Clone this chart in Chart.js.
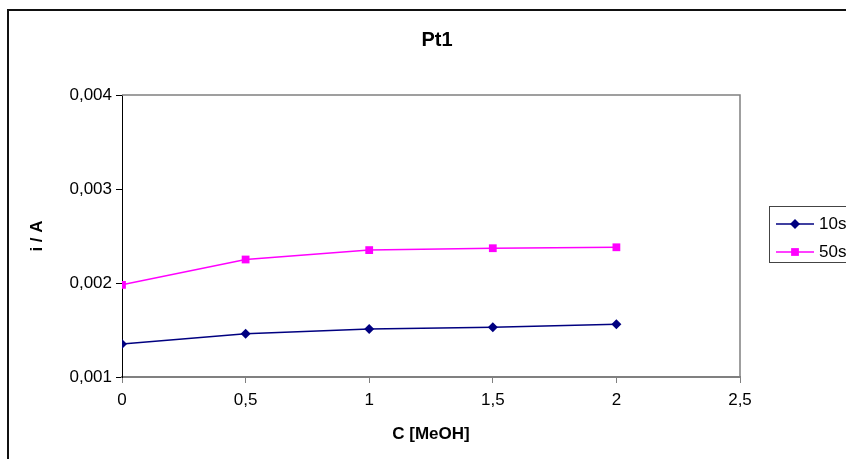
<!DOCTYPE html>
<html>
<head>
<meta charset="utf-8">
<script src="https://cdn.jsdelivr.net/npm/chart.js@4.4.1/dist/chart.umd.min.js"></script>
<style>
  html, body { margin: 0; padding: 0; background: #fff; }
  canvas { display: block; }
</style>
</head>
<body>
<canvas id="chartPt1" width="846" height="459"></canvas>
<script>
// Pt1: Strom gegen Methanolkonzentration
const konzentration = [0, 0.5, 1, 1.5, 2];
const strom10s = [0.00135, 0.00146, 0.00151, 0.00153, 0.00156];
const strom50s = [0.00198, 0.00225, 0.00235, 0.00237, 0.00238];
const xTicks = [0, 0.5, 1, 1.5, 2, 2.5];
const yTicks = [0.001, 0.002, 0.003, 0.004];

const FONT = "'Liberation Sans', Arial, sans-serif";
Chart.defaults.font.family = FONT;
Chart.defaults.color = '#000';

const komma = v => String(v).replace('.', ',');

// Rahmen, Titel und Legende im Excel-Stil
const excelFrame = {
    id: 'excelFrame',
    beforeDraw(chart) {
        const ctx = chart.ctx;
        ctx.save();
        ctx.fillStyle = '#fff';
        ctx.fillRect(0, 0, chart.width, chart.height);
        ctx.strokeStyle = '#111';
        ctx.lineWidth = 2;
        ctx.strokeRect(8, 10, chart.width + 20, chart.height + 20);
        ctx.restore();
    },
    afterDatasetsDraw(chart) {
        const ctx = chart.ctx;
        const a = chart.chartArea;
        ctx.save();
        ctx.strokeStyle = '#808080';
        ctx.lineWidth = 1.5;
        ctx.beginPath();
        ctx.moveTo(a.left, a.top);
        ctx.lineTo(a.right, a.top);
        ctx.lineTo(a.right, a.bottom);
        ctx.stroke();

        ctx.fillStyle = '#000';
        ctx.font = 'bold 20px ' + FONT;
        ctx.textAlign = 'center';
        ctx.textBaseline = 'middle';
        ctx.fillText('Pt1', 437, 40);

        // Legende
        ctx.fillStyle = '#fff';
        ctx.fillRect(769.5, 206.5, 120, 56);
        ctx.strokeStyle = '#444';
        ctx.lineWidth = 1;
        ctx.strokeRect(769.5, 206.5, 120, 56);
        chart.data.datasets.forEach((ds, i) => {
            const y = 224 + i * 28;
            ctx.strokeStyle = ds.borderColor;
            ctx.lineWidth = ds.borderWidth;
            ctx.beginPath();
            ctx.moveTo(776, y);
            ctx.lineTo(814, y);
            ctx.stroke();
            ctx.fillStyle = ds.backgroundColor;
            Chart.helpers.drawPoint(ctx, {
                pointStyle: ds.pointStyle, radius: ds.pointRadius, borderWidth: 0
            }, 795, y);
            ctx.fillStyle = '#000';
            ctx.font = '17px ' + FONT;
            ctx.textAlign = 'left';
            ctx.fillText(ds.label, 819, y);
        });
        ctx.restore();
    }
};

new Chart(document.getElementById('chartPt1'), {
    type: 'line',
    data: {
        datasets: [{
            label: '10s',
            data: konzentration.map((c, i) => ({ x: c, y: strom10s[i] })),
            borderColor: '#000080',
            backgroundColor: '#000080',
            borderWidth: 1.5,
            pointStyle: 'rectRot',
            pointRadius: 5,
            pointBorderWidth: 0,
        }, {
            label: '50s',
            data: konzentration.map((c, i) => ({ x: c, y: strom50s[i] })),
            borderColor: '#ff00ff',
            backgroundColor: '#ff00ff',
            borderWidth: 1.5,
            pointStyle: 'rect',
            pointRadius: 5.5,
            pointBorderWidth: 0,
        }],
    },
    options: {
        responsive: false,
        animation: false,
        layout: { padding: { top: 95, right: 106, left: 0, bottom: 0 } },
        plugins: {
            legend: { display: false },
            title: { display: false },
            tooltip: { enabled: false },
        },
        scales: {
            x: {
                type: 'linear',
                min: 0,
                max: 2.5,
                afterFit(scale) { scale.height = 82; },
                afterBuildTicks(scale) { scale.ticks = xTicks.map(v => ({ value: v })); },
                grid: { drawOnChartArea: false, color: '#808080', tickLength: 6, tickWidth: 1 },
                border: { color: '#808080', width: 2 },
                ticks: { font: { size: 17 }, padding: 7, maxRotation: 0, callback: v => komma(v) },
                title: { display: true, text: 'C [MeOH]', font: { size: 17, weight: 'bold' }, padding: { top: 0, bottom: 14 } },
            },
            y: {
                min: 0.001,
                max: 0.004,
                afterFit(scale) { scale.width = 122; },
                afterBuildTicks(scale) { scale.ticks = yTicks.map(v => ({ value: v })); },
                grid: { drawOnChartArea: false, color: '#000', tickLength: 6, tickWidth: 1 },
                border: { color: '#000', width: 1 },
                ticks: { font: { size: 17 }, padding: 4, callback: v => v.toFixed(3).replace('.', ',') },
                title: { display: true, text: 'i / A', font: { size: 17, weight: 'bold' }, padding: { top: 27, bottom: 0 } },
            },
        },
    },
    plugins: [excelFrame],
});
</script>
</body>
</html>
